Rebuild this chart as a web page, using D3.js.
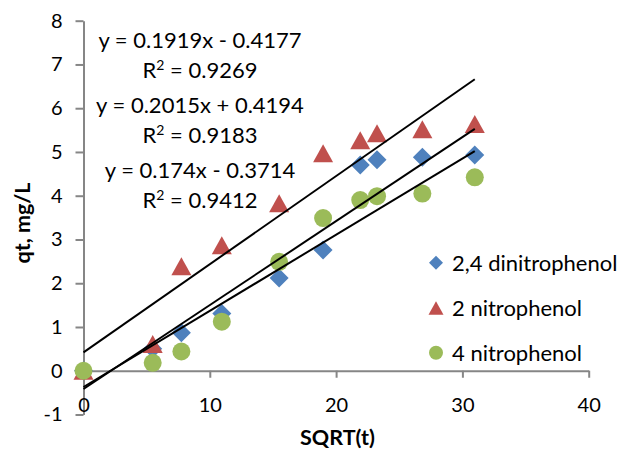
<!DOCTYPE html>
<html>
<head>
<meta charset="utf-8">
<script src="https://cdn.jsdelivr.net/npm/d3@7"></script>
<style>
  html, body { margin: 0; padding: 0; background: #fff; }
  svg { display: block; font-family: Lato, "Open Sans", sans-serif; }
</style>
</head>
<body>
<svg id="chart" width="625" height="449"></svg>
<script>
// SQRT(t) sampling points shared by all three series
const sqrtT = [0, 5.48, 7.75, 10.95, 15.49, 18.97, 21.91, 23.24, 26.83, 30.98];

// Adsorbed amount qt (mg/L) per compound
const dinitrophenol24 = [0, 0.5, 0.87, 1.31, 2.12, 2.76, 4.70, 4.82, 4.88, 4.93];
const nitrophenol2    = [0, 0.61, 2.39, 2.87, 3.83, 4.97, 5.27, 5.43, 5.52, 5.64];
const nitrophenol4    = [0, 0.18, 0.44, 1.12, 2.49, 3.49, 3.90, 3.99, 4.05, 4.42];

const seriesNames = ["2,4 dinitrophenol", "2 nitrophenol", "4 nitrophenol"];
const seriesColors = ["#4F81BD", "#C0504D", "#9BBB59"];
const seriesShapes = ["diamond", "triangle", "circle"];

// Linear trendline fits, in the same series order
const slopes     = [0.1919, 0.2015, 0.174];
const intercepts = [-0.4177, 0.4194, -0.3714];
const rSquared   = [0.9269, 0.9183, 0.9412];

const xTicks = [0, 10, 20, 30, 40];
const yTicks = [-1, 0, 1, 2, 3, 4, 5, 6, 7, 8];

const seriesValues = [dinitrophenol24, nitrophenol2, nitrophenol4];

const svg = d3.select("#chart");
const axisColor = "#868686";
const plainNum = d => String(d);   // keeps an ASCII hyphen for negatives

const x = d3.scaleLinear().domain([0, 40]).range([83.5, 588.7]);
const y = d3.scaleLinear().domain([-1, 8]).range([414.5, 20.7]);

// Y axis
const yAxis = svg.append("g")
  .attr("transform", `translate(${x(0)},0)`)
  .call(d3.axisLeft(y).tickValues(yTicks).tickSize(8).tickPadding(13).tickSizeOuter(0)
    .tickFormat(plainNum));

// X axis, crossing at y = 0
const xAxis = svg.append("g")
  .attr("transform", `translate(0,${y(0)})`)
  .call(d3.axisBottom(x).tickValues(xTicks).tickSize(7).tickPadding(20).tickSizeOuter(0)
    .tickFormat(plainNum));

[yAxis, xAxis].forEach(g => {
  g.select(".domain").attr("stroke", axisColor).attr("stroke-width", 2);
  g.selectAll(".tick line").attr("stroke", axisColor).attr("stroke-width", 2);
  g.selectAll(".tick text").attr("fill", "#000").style("font-size", "20px")
    .style("font-family", "Lato, 'Open Sans', sans-serif");
});

// Axis titles
svg.append("text")
  .attr("x", 337.5).attr("y", 445)
  .attr("text-anchor", "middle")
  .style("font-size", "21.5px").style("font-weight", "bold")
  .text("SQRT(t)");

svg.append("text")
  .attr("transform", `translate(30,223) rotate(-90)`)
  .attr("text-anchor", "middle")
  .style("font-size", "21.5px").style("font-weight", "bold")
  .text("qt, mg/L");

// Marker outlines; w = overall width in pixels, centred on the point
function markerPath(shape, w) {
  const h = w / 2;
  if (shape === "diamond") {
    return `M0,${-h}L${h},0L0,${h}L${-h},0Z`;
  }
  if (shape === "triangle") {
    const th = w * 0.9 / 2;
    return `M0,${-th}L${h},${th}L${-h},${th}Z`;
  }
  return d3.symbol().type(d3.symbolCircle).size(Math.PI * h * h)();
}
const markerWidth = { diamond: 19, triangle: 20, circle: 18 };

const plot = svg.append("g");
seriesValues.forEach((vals, i) => {
  plot.append("g").selectAll("path")
    .data(vals.map((v, j) => [sqrtT[j], v]))
    .join("path")
    .attr("transform", d => `translate(${x(d[0])},${y(d[1])})`)
    .attr("d", markerPath(seriesShapes[i], markerWidth[seriesShapes[i]]))
    .attr("fill", seriesColors[i]);
});

// Trendlines over the sampled range
const xMin = d3.min(sqrtT), xMax = d3.max(sqrtT);
const line = d3.line().x(d => x(d[0])).y(d => y(d[1]));
slopes.forEach((m, i) => {
  svg.append("path")
    .attr("d", line([[xMin, m * xMin + intercepts[i]], [xMax, m * xMax + intercepts[i]]]))
    .attr("stroke", "#000").attr("stroke-width", 2).attr("fill", "none");
});

// Trendline equations
const fmtSigned = v => (v < 0 ? " - " : " + ") + Math.abs(v);
const eqY = [40, 70, 105, 135, 170, 200];
[0, 1, 2].forEach((i, k) => {
  svg.append("text")
    .attr("x", 200).attr("y", eqY[2 * k] + 7.5)
    .attr("text-anchor", "middle")
    .style("font-size", "22px")
    .text(`y = ${slopes[i]}x${fmtSigned(intercepts[i])}`);
  const r = svg.append("text")
    .attr("x", 200).attr("y", eqY[2 * k + 1] + 7.5)
    .attr("text-anchor", "middle")
    .style("font-size", "22px");
  r.append("tspan").text("R");
  r.append("tspan").attr("dy", -8).style("font-size", "14px").text("2");
  r.append("tspan").attr("dy", 8).text(` = ${rSquared[i]}`);
});

// Legend
const legendY = [262.7, 308, 352.7];
const legendMarkerWidth = { diamond: 14, triangle: 15, circle: 14 };
seriesNames.forEach((name, i) => {
  const g = svg.append("g").attr("transform", `translate(436,${legendY[i]})`);
  g.append("path")
    .attr("d", markerPath(seriesShapes[i], legendMarkerWidth[seriesShapes[i]]))
    .attr("fill", seriesColors[i]);
  g.append("text").attr("x", 16).attr("dy", "0.36em")
    .style("font-size", "22px").text(name);
});
</script>
</body>
</html>
